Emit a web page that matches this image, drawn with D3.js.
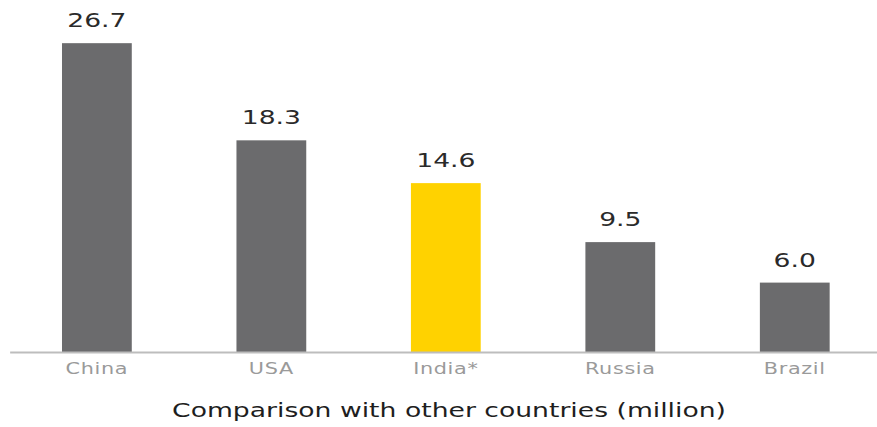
<!DOCTYPE html>
<html>
<head>
<meta charset="utf-8">
<script src="https://cdn.jsdelivr.net/npm/d3@7"></script>
<style>
  body { margin: 0; background: #fff; }
</style>
</head>
<body>
<script>
// data
var countries = ["China", "USA", "India*", "Russia", "Brazil"];
var values = [26.7, 18.3, 14.6, 9.5, 6.0];
var highlighted = ["India*"];
var caption = "Comparison with other countries (million)";

var width = 877;
var height = 427;
var baseline = 352;

var svg = d3.select("body")
            .append("svg")
            .attr("width", width)
            .attr("height", height);

var x = d3.scaleBand()
          .domain(countries)
          .range([9.65, 882])
          .paddingInner(0.6)
          .paddingOuter(0.3);

var y = d3.scaleLinear()
          .domain([0, 30])
          .range([baseline, 5]);

var data = countries.map(function(c, i) {
    return { country: c, value: values[i] };
});

// bars
svg.selectAll("rect.bar")
   .data(data)
   .enter()
   .append("rect")
   .attr("class", "bar")
   .attr("x", function(d) { return x(d.country); })
   .attr("y", function(d) { return y(d.value); })
   .attr("width", x.bandwidth())
   .attr("height", function(d) { return y(0) - y(d.value); })
   .attr("fill", function(d) {
        return highlighted.indexOf(d.country) >= 0 ? "#ffd200" : "#6b6b6d";
   });

// value labels (the source font is wide, so stretch horizontally)
svg.selectAll("text.value")
   .data(data)
   .enter()
   .append("text")
   .attr("class", "value")
   .attr("transform", function(d) {
        return "translate(" + (x(d.country) + x.bandwidth() / 2) + "," + (y(d.value) - 16) + ") scale(1.4,1)";
   })
   .attr("text-anchor", "middle")
   .attr("font-family", "DejaVu Sans, sans-serif")
   .attr("font-size", "19px")
   .attr("fill", "#2a2a2a")
   .text(function(d) { return d.value.toFixed(1); });

// x axis
var axis = svg.append("g")
              .attr("transform", "translate(0," + baseline + ")")
              .call(d3.axisBottom(x).tickSize(0).tickPadding(11));

axis.select(".domain")
    .attr("stroke", "#bdbdbd")
    .attr("stroke-width", 2);

axis.selectAll("text")
    .attr("font-family", "DejaVu Sans, sans-serif")
    .attr("font-size", "16px")
    .attr("transform", "scale(1.3,1)")
    .attr("letter-spacing", "0.5px")
    .attr("fill", "#9a9a9a");

// caption
var cap = svg.append("text")
   .attr("text-anchor", "middle")
   .attr("font-family", "DejaVu Sans, sans-serif")
   .attr("font-size", "20px")
   .attr("fill", "#1e1e1e")
   .text(caption);

var sx = 554 / cap.node().getComputedTextLength();
cap.attr("transform", "translate(449,417) scale(" + sx + ",1)");
</script>
</body>
</html>
